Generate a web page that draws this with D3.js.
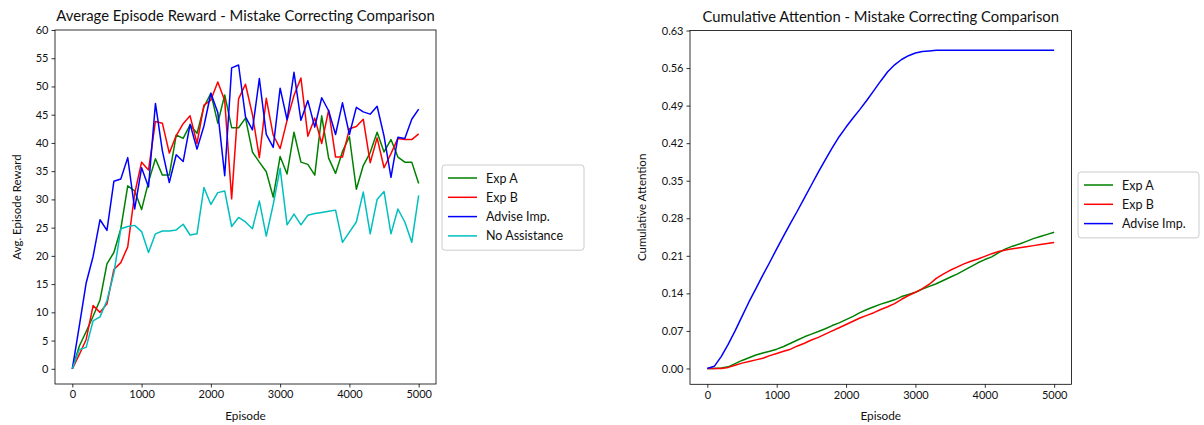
<!DOCTYPE html>
<html>
<head>
<meta charset="utf-8">
<script src="https://cdn.jsdelivr.net/npm/d3@7"></script>
<style>
  html, body { margin: 0; padding: 0; background: #fff; }
  svg { display: block; }
  text { font-family: "Lato", "DejaVu Sans", sans-serif; fill: #111; }
</style>
</head>
<body>
<svg id="fig" width="1204" height="425"></svg>
<script>
// Episodes sampled every 100 steps
const episodes = d3.range(0, 5001, 100);

// Average episode reward per series
const rewardExpA = [0, 4.0, 6.6, 9.3, 12.2, 18.6, 20.6, 24.8, 32.4, 31.5, 28.2, 33.1, 37.2, 34.3, 34.3, 41.4, 40.8, 43.2, 41.7, 46.4,
  48.8, 43.5, 48.5, 42.7, 42.7, 44.4, 38.4, 36.6, 34.9, 30.4, 37.6, 34.5, 41.9, 36.6, 36.2, 34.3, 44.8, 37.3, 34.6, 38.5,
  41.1, 31.8, 36.0, 38.3, 41.9, 38.4, 40.6, 37.5, 36.6, 36.6, 32.8];
const rewardExpB = [0, 2.5, 5.2, 11.2, 10.0, 11.5, 17.6, 18.8, 21.6, 31.0, 36.6, 35.2, 43.8, 43.5, 38.2, 41.3, 43.4, 44.8, 39.9, 46.7,
  47.6, 50.8, 47.5, 30.1, 47.8, 50.4, 45.0, 37.4, 47.9, 41.4, 39.0, 44.0, 48.4, 51.5, 41.2, 44.4, 39.9, 45.8, 37.5, 37.5,
  42.5, 42.9, 44.2, 36.5, 40.9, 35.6, 38.1, 40.8, 40.6, 40.6, 41.6];
const rewardAdvise = [0, 7.5, 15.2, 19.9, 26.4, 24.5, 33.2, 33.6, 37.4, 28.3, 35.6, 32.2, 47.0, 38.6, 33.0, 37.9, 36.7, 43.3, 38.9, 43.0,
  48.8, 45.4, 34.2, 53.3, 53.8, 44.6, 42.3, 51.4, 41.5, 39.2, 49.7, 44.1, 52.5, 44.0, 47.5, 42.8, 48.0, 45.7, 41.5, 47.1,
  41.5, 46.3, 45.5, 45.1, 46.5, 41.2, 33.9, 41.0, 40.8, 44.2, 46.0];
const rewardNoAssist = [0, 3.4, 3.8, 8.5, 9.2, 12.1, 16.9, 24.8, 25.2, 25.4, 24.3, 20.6, 23.9, 24.4, 24.4, 24.6, 25.6, 23.7, 23.9, 32.1,
  29.1, 31.2, 31.5, 25.2, 26.8, 26.0, 24.8, 29.7, 23.5, 29.1, 35.5, 25.5, 27.4, 25.5, 27.2, 27.5, 27.7, 27.9, 28.1, 22.4,
  24.2, 26.0, 31.3, 23.9, 30.0, 31.4, 23.9, 28.3, 26.0, 22.4, 30.7];

// Cumulative attention per series
const attnExpA = [0, 0, 0.001, 0.003, 0.009, 0.015, 0.020, 0.025, 0.029, 0.032, 0.036, 0.041, 0.047, 0.053, 0.059, 0.064, 0.069, 0.074, 0.080, 0.085,
  0.091, 0.097, 0.104, 0.110, 0.115, 0.120, 0.124, 0.128, 0.134, 0.138, 0.142, 0.148, 0.153, 0.158, 0.164, 0.170, 0.176, 0.183, 0.190, 0.197,
  0.203, 0.208, 0.216, 0.223, 0.228, 0.232, 0.237, 0.242, 0.246, 0.250, 0.254];
const attnExpB = [0, 0, 0, 0.002, 0.006, 0.010, 0.013, 0.016, 0.019, 0.024, 0.028, 0.032, 0.036, 0.042, 0.047, 0.053, 0.058, 0.064, 0.070, 0.076,
  0.082, 0.088, 0.094, 0.099, 0.104, 0.110, 0.115, 0.121, 0.129, 0.136, 0.142, 0.149, 0.157, 0.168, 0.176, 0.183, 0.189, 0.195, 0.200, 0.204,
  0.209, 0.214, 0.218, 0.221, 0.223, 0.225, 0.227, 0.229, 0.231, 0.233, 0.235];
const attnAdvise = [0, 0.004, 0.022, 0.045, 0.070, 0.097, 0.124, 0.149, 0.174, 0.198, 0.223, 0.247, 0.271, 0.294, 0.318, 0.342, 0.366, 0.389, 0.411, 0.432,
  0.450, 0.467, 0.483, 0.500, 0.518, 0.536, 0.553, 0.566, 0.576, 0.583, 0.588, 0.591, 0.592, 0.593, 0.593, 0.593, 0.593, 0.593, 0.593, 0.593,
  0.593, 0.593, 0.593, 0.593, 0.593, 0.593, 0.593, 0.593, 0.593, 0.593, 0.593];

// Tick values and labels
const xTicks = [0, 1000, 2000, 3000, 4000, 5000];
const rewardTicks = d3.range(0, 61, 5);
const attnTicks = [0, 0.07, 0.14, 0.21, 0.28, 0.35, 0.42, 0.49, 0.56, 0.63];

const rewardSeries = [
  { name: "Exp A", color: "#008000", values: rewardExpA },
  { name: "Exp B", color: "#ff0000", values: rewardExpB },
  { name: "Advise Imp.", color: "#0000ff", values: rewardAdvise },
  { name: "No Assistance", color: "#00bfbf", values: rewardNoAssist }
];
const attnSeries = [
  { name: "Exp A", color: "#008000", values: attnExpA },
  { name: "Exp B", color: "#ff0000", values: attnExpB },
  { name: "Advise Imp.", color: "#0000ff", values: attnAdvise }
];

const svg = d3.select("#fig");

function panel(opts) {
  const { left, top, right, bottom, xDomain, yDomain, yTicks, yFmt, title, yLabel, series, legend } = opts;
  const g = svg.append("g");
  const x = d3.scaleLinear().domain(xDomain).range([left, right]);
  const y = d3.scaleLinear().domain(yDomain).range([bottom, top]);

  // lines
  const line = d3.line().x((d, i) => x(episodes[i])).y(d => y(d));
  g.append("g").selectAll("path").data(series).join("path")
    .attr("d", s => line(s.values))
    .attr("fill", "none")
    .attr("stroke", s => s.color)
    .attr("stroke-width", 1.5)
    .attr("stroke-linejoin", "round");

  // axes
  const xAxis = d3.axisBottom(x).tickValues(xTicks).tickSize(3.5).tickPadding(3).tickFormat(d3.format("d"));
  const yAxis = d3.axisLeft(y).tickValues(yTicks).tickSize(3.5).tickPadding(3).tickFormat(yFmt);
  const gx = g.append("g").attr("transform", `translate(0,${bottom})`).call(xAxis);
  const gy = g.append("g").attr("transform", `translate(${left},0)`).call(yAxis);
  [gx, gy].forEach(a => {
    a.select(".domain").remove();
    a.selectAll("line").attr("stroke", "#000").attr("stroke-width", 0.8);
    a.selectAll("text").attr("font-size", 11).attr("fill", "#111")
      .style("font-family", "Lato, 'DejaVu Sans', sans-serif");
  });

  // frame
  g.append("rect").attr("x", left).attr("y", top)
    .attr("width", right - left).attr("height", bottom - top)
    .attr("fill", "none").attr("stroke", "#000").attr("stroke-width", 0.8);

  // title and labels
  g.append("text").attr("x", (left + right) / 2).attr("y", top - 9)
    .attr("text-anchor", "middle").attr("font-size", 14.8).text(title);
  g.append("text").attr("x", (left + right) / 2).attr("y", 420)
    .attr("text-anchor", "middle").attr("font-size", 11.8).text("Episode");
  g.append("text")
    .attr("transform", `translate(${left - opts.yLabelOffset},${(top + bottom) / 2}) rotate(-90)`)
    .attr("text-anchor", "middle").attr("font-size", 11.5).text(yLabel);

  // legend
  const lg = svg.append("g").attr("transform", `translate(${legend.x},${legend.y})`);
  const rowH = 19.3;
  lg.append("rect").attr("x", 0).attr("y", 0).attr("rx", 3).attr("ry", 3)
    .attr("width", legend.w).attr("height", series.length * rowH + 8)
    .attr("fill", "#fff").attr("fill-opacity", 0.8).attr("stroke", "#ccc").attr("stroke-width", 1);
  series.forEach((s, i) => {
    const cy = 13 + i * rowH;
    lg.append("line").attr("x1", 6).attr("x2", 35).attr("y1", cy).attr("y2", cy)
      .attr("stroke", s.color).attr("stroke-width", 1.5);
    lg.append("text").attr("x", 44).attr("y", cy + 4.5).attr("font-size", 12.5).text(s.name);
  });
}

panel({
  left: 55, top: 30, right: 436, bottom: 384,
  xDomain: [-250, 5250], yDomain: [-2.69, 60],
  yTicks: rewardTicks, yFmt: d3.format("d"),
  title: "Average Episode Reward - Mistake Correcting Comparison",
  yLabel: "Avg. Episode Reward", yLabelOffset: 34,
  series: rewardSeries,
  legend: { x: 442, y: 165, w: 142 }
});

panel({
  left: 690, top: 30.5, right: 1071.5, bottom: 384.3,
  xDomain: [-250, 5250], yDomain: [-0.0295, 0.63],
  yTicks: attnTicks, yFmt: d3.format(".2f"),
  title: "Cumulative Attention - Mistake Correcting Comparison",
  yLabel: "Cumulative Attention", yLabelOffset: 44,
  series: attnSeries,
  legend: { x: 1078, y: 172, w: 121 }
});
</script>
</body>
</html>
